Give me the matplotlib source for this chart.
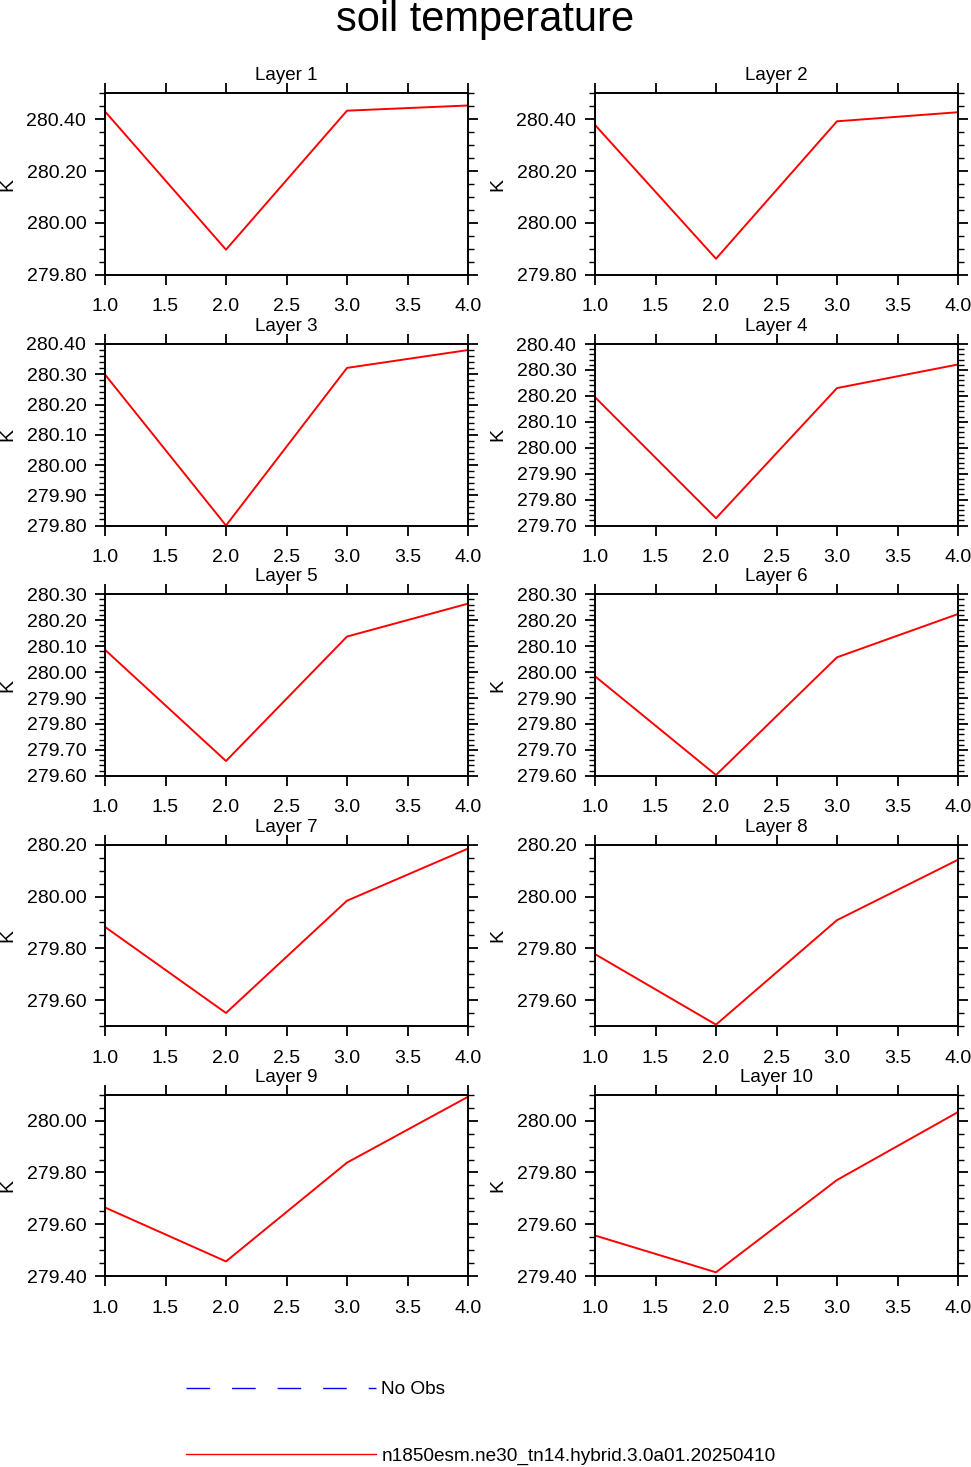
import numpy as np
import matplotlib
matplotlib.use("Agg")
import matplotlib.pyplot as plt
from matplotlib.lines import Line2D
from matplotlib.ticker import MultipleLocator, FormatStrFormatter

plt.rcParams["font.family"] = ["Liberation Sans", "DejaVu Sans"]

# x positions (1..4) and soil temperature (K) per layer
x_vals = [1.0, 2.0, 3.0, 4.0]
layer_titles = [f"Layer {i}" for i in range(1, 11)]

layer1 = [280.430, 279.897, 280.433, 280.453]
layer2 = [280.378, 279.862, 280.392, 280.427]
layer3 = [280.299, 279.800, 280.321, 280.380]
layer4 = [280.195, 279.728, 280.230, 280.321]
layer5 = [280.086, 279.657, 280.137, 280.264]
layer6 = [279.984, 279.603, 280.057, 280.224]
layer7 = [279.883, 279.551, 279.984, 280.185]
layer8 = [279.778, 279.506, 279.909, 280.142]
layer9 = [279.665, 279.457, 279.838, 280.092]
layer10 = [279.557, 279.415, 279.771, 280.033]
layers = [layer1, layer2, layer3, layer4, layer5,
          layer6, layer7, layer8, layer9, layer10]

# axis ranges and tick steps per panel
y_min = [279.80, 279.80, 279.80, 279.70, 279.60, 279.60, 279.50, 279.50, 279.40, 279.40]
y_max = [280.50, 280.50, 280.40, 280.40, 280.30, 280.30, 280.20, 280.20, 280.10, 280.10]
y_major = [0.2, 0.2, 0.1, 0.1, 0.1, 0.1, 0.2, 0.2, 0.2, 0.2]
y_minor = [0.05, 0.05, 0.02, 0.02, 0.02, 0.02, 0.05, 0.05, 0.05, 0.05]

legend_labels = ["No Obs", "n1850esm.ne30_tn14.hybrid.3.0a01.20250410"]

W, H = 971, 1467
fig = plt.figure(figsize=(W / 100, H / 100), dpi=100)
fig.text(0.5, 1 - 20 / H, "soil temperature", ha="center", va="center", fontsize=30)

col_left = [105, 595]
row_top = [93.3, 344, 594.3, 844.7, 1094.7]
ax_w, ax_h = 363, 181.5

for i, vals in enumerate(layers):
    r, c = divmod(i, 2)
    ax = fig.add_axes([col_left[c] / W, 1 - (row_top[r] + ax_h) / H, ax_w / W, ax_h / H])
    ax.plot(x_vals, vals, color="red", lw=1.4)

    ax.set_xlim(1.0, 4.0)
    lo, hi = y_min[i], y_max[i]
    ax.set_ylim(lo, hi)
    ax.xaxis.set_major_locator(MultipleLocator(0.5))
    ax.xaxis.set_major_formatter(FormatStrFormatter("%.1f"))
    # major labels on round multiples of the step
    start = lo if abs(round(lo / y_major[i]) * y_major[i] - lo) < 1e-6 else lo + y_minor[i] * 2
    ax.set_yticks(np.arange(start, hi + 1e-6, y_major[i]))
    ax.yaxis.set_major_formatter(FormatStrFormatter("%.2f"))
    ax.yaxis.set_minor_locator(MultipleLocator(y_minor[i]))

    ax.tick_params(which="both", direction="out", top=True, right=True, labelsize=14)
    ax.tick_params(which="major", length=7, width=1.3, pad=6.5)
    ax.tick_params(axis="x", which="major", pad=10)
    ax.tick_params(which="minor", length=4, width=1.0)
    ax.tick_params(axis="x", which="minor", bottom=False, top=False)
    for sp in ax.spines.values():
        sp.set_linewidth(1.4)

    ax.set_title(layer_titles[i], fontsize=13.5, pad=9.5)
    ax.set_ylabel("K", fontsize=14, va="center")
    ax.yaxis.set_label_coords(-0.267, 0.5)

handles = [
    Line2D([], [], color="blue", lw=1.0, dashes=(17, 15.8)),
    Line2D([], [], color="red", lw=1.0),
]
fig.legend(handles, legend_labels, loc="upper left",
           bbox_to_anchor=(186 / W, 1 - 1381 / H), frameon=False,
           fontsize=13.7, handlelength=10.0, handletextpad=0.27,
           labelspacing=2.6, borderpad=0, borderaxespad=0)

fig.savefig("out.png", dpi=100)
